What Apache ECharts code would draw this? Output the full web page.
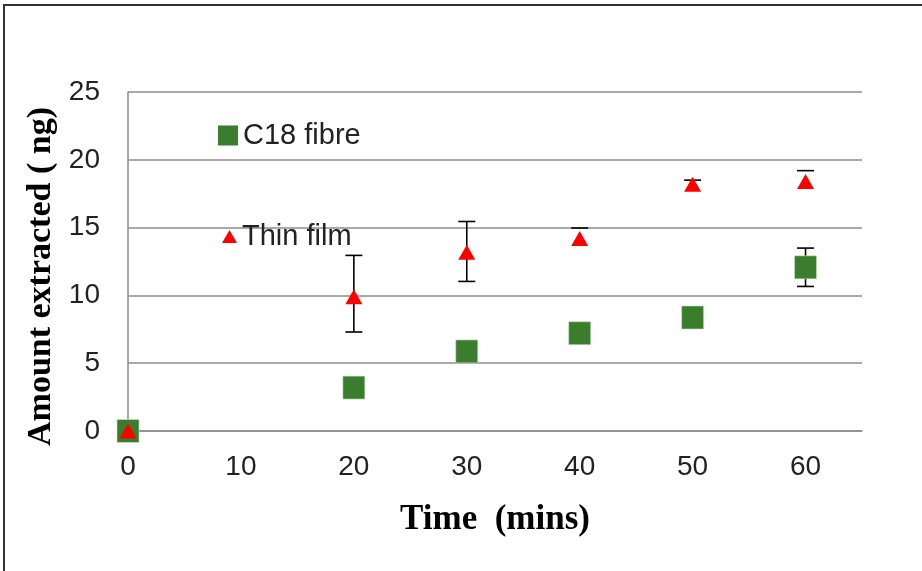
<!DOCTYPE html>
<html>
<head>
<meta charset="utf-8">
<script src="https://cdn.jsdelivr.net/npm/echarts@6/dist/echarts.min.js"></script>
<style>
html,body{margin:0;padding:0;background:#fff;}
#chart{width:922px;height:571px;}
</style>
</head>
<body>
<div id="chart"></div>
<script>
// ---- data ----
var times = [0, 20, 30, 40, 50, 60];
var c18Values = [0, 3.2, 5.87, 7.21, 8.37, 12.07];
var c18ErrLow = [null, null, null, null, null, 10.66];
var c18ErrHigh = [null, null, null, null, null, 13.49];
var thinValues = [0, 9.9, 13.18, 14.2, 18.2, 18.4];
var thinErrLow = [null, 7.3, 11.03, null, null, null];
var thinErrHigh = [null, 12.95, 15.45, 14.97, 18.5, 19.2];
var xTickLabels = ['0', '10', '20', '30', '40', '50', '60'];
var yTickLabels = ['0', '5', '10', '15', '20', '25'];
var seriesNames = ['C18 fibre', 'Thin film'];

function pairs(xs, ys) {
  return xs.map(function (x, i) { return [x, ys[i]]; });
}
function errData(xs, lo, hi) {
  var out = [];
  xs.forEach(function (x, i) {
    if (lo[i] != null || hi[i] != null) out.push([x, lo[i], hi[i]]);
  });
  return out;
}
function ok(v) { return v != null && !isNaN(v); }
function errRender(params, api) {
  var x = api.value(0);
  var lo = api.value(1);
  var hi = api.value(2);
  var children = [];
  var cap = 8.5;
  var style = { stroke: '#000', lineWidth: 1.6 };
  if (ok(hi)) {
    var pHi = api.coord([x, hi]);
    children.push({ type: 'line', shape: { x1: pHi[0] - cap, y1: pHi[1], x2: pHi[0] + cap, y2: pHi[1] }, style: style });
  }
  if (ok(lo)) {
    var pLo = api.coord([x, lo]);
    children.push({ type: 'line', shape: { x1: pLo[0] - cap, y1: pLo[1], x2: pLo[0] + cap, y2: pLo[1] }, style: style });
  }
  if (ok(hi) && ok(lo)) {
    var a = api.coord([x, hi]), b = api.coord([x, lo]);
    children.push({ type: 'line', shape: { x1: a[0], y1: a[1], x2: b[0], y2: b[1] }, style: style });
  }
  return { type: 'group', children: children };
}

var chart = echarts.init(document.getElementById('chart'));
var option = {
  animation: false,
  backgroundColor: '#fff',
  graphic: [{
    type: 'rect', silent: true, z: -10,
    shape: { x: 4, y: 5, width: 1000, height: 1000 },
    style: { fill: 'none', stroke: '#333', lineWidth: 2 }
  }],
  grid: { left: 128, right: 60, top: 92, bottom: 140, containLabel: false },
  legend: [{
    data: [{ name: seriesNames[0], icon: 'rect', itemStyle: { borderWidth: 0 } }],
    left: 218, top: 121, padding: 0, itemWidth: 20, itemHeight: 20,
    textStyle: { fontFamily: 'Liberation Sans, Arial', fontSize: 29, color: '#222' }
  }, {
    data: [{ name: seriesNames[1], icon: 'triangle' }],
    left: 222, top: 222, padding: 0, itemWidth: 15, itemHeight: 13,
    textStyle: { fontFamily: 'Liberation Sans, Arial', fontSize: 29, color: '#222' }
  }],
  xAxis: {
    type: 'value', min: 0, max: 65, interval: 10,
    name: 'Time  (mins)', nameLocation: 'middle', nameGap: 71,
    nameTextStyle: { fontFamily: 'Liberation Serif, Times New Roman', fontWeight: 'bold', fontSize: 35, color: '#000' },
    axisLine: { show: true, onZero: false, lineStyle: { color: '#8c8c8c', width: 1.5 } },
    axisTick: { show: false },
    splitLine: { show: false },
    axisLabel: {
      margin: 22, fontFamily: 'Liberation Sans, Arial', fontSize: 28, color: '#222',
      formatter: function (v) { var i = xTickLabels.indexOf(String(v)); return i >= 0 ? xTickLabels[i] : ''; }
    }
  },
  yAxis: {
    type: 'value', min: 0, max: 25, interval: 5,
    name: 'Amount extracted ( ng)', nameLocation: 'middle', nameGap: 70,
    nameTextStyle: { fontFamily: 'Liberation Serif, Times New Roman', fontWeight: 'bold', fontSize: 34, color: '#000', padding: [0, 30, 0, 0] },
    axisLine: { show: true, lineStyle: { color: '#8c8c8c', width: 1.5 } },
    axisTick: { show: false },
    splitLine: { show: true, lineStyle: { color: '#8c8c8c', width: 1.5 } },
    axisLabel: {
      margin: 28, fontFamily: 'Liberation Sans, Arial', fontSize: 28, color: '#222',
      formatter: function (v) { var i = yTickLabels.indexOf(String(v)); return i >= 0 ? yTickLabels[i] : ''; }
    }
  },
  series: [{
    name: seriesNames[0] + ' err', type: 'custom', renderItem: errRender,
    data: errData(times, c18ErrLow, c18ErrHigh), z: 1, silent: true
  }, {
    name: seriesNames[1] + ' err', type: 'custom', renderItem: errRender,
    data: errData(times, thinErrLow, thinErrHigh), z: 1, silent: true
  }, {
    name: seriesNames[0], type: 'scatter', symbol: 'rect', symbolSize: [22, 23],
    itemStyle: { color: '#3a7d2c', opacity: 1, borderColor: '#cfe3c8', borderWidth: 0.6 },
    data: pairs(times, c18Values), z: 3
  }, {
    name: seriesNames[1], type: 'scatter', symbol: 'triangle', symbolSize: [17, 15],
    itemStyle: { color: '#ff0000', opacity: 1 },
    data: pairs(times, thinValues), z: 4
  }]
};
chart.setOption(option);
</script>
</body>
</html>
